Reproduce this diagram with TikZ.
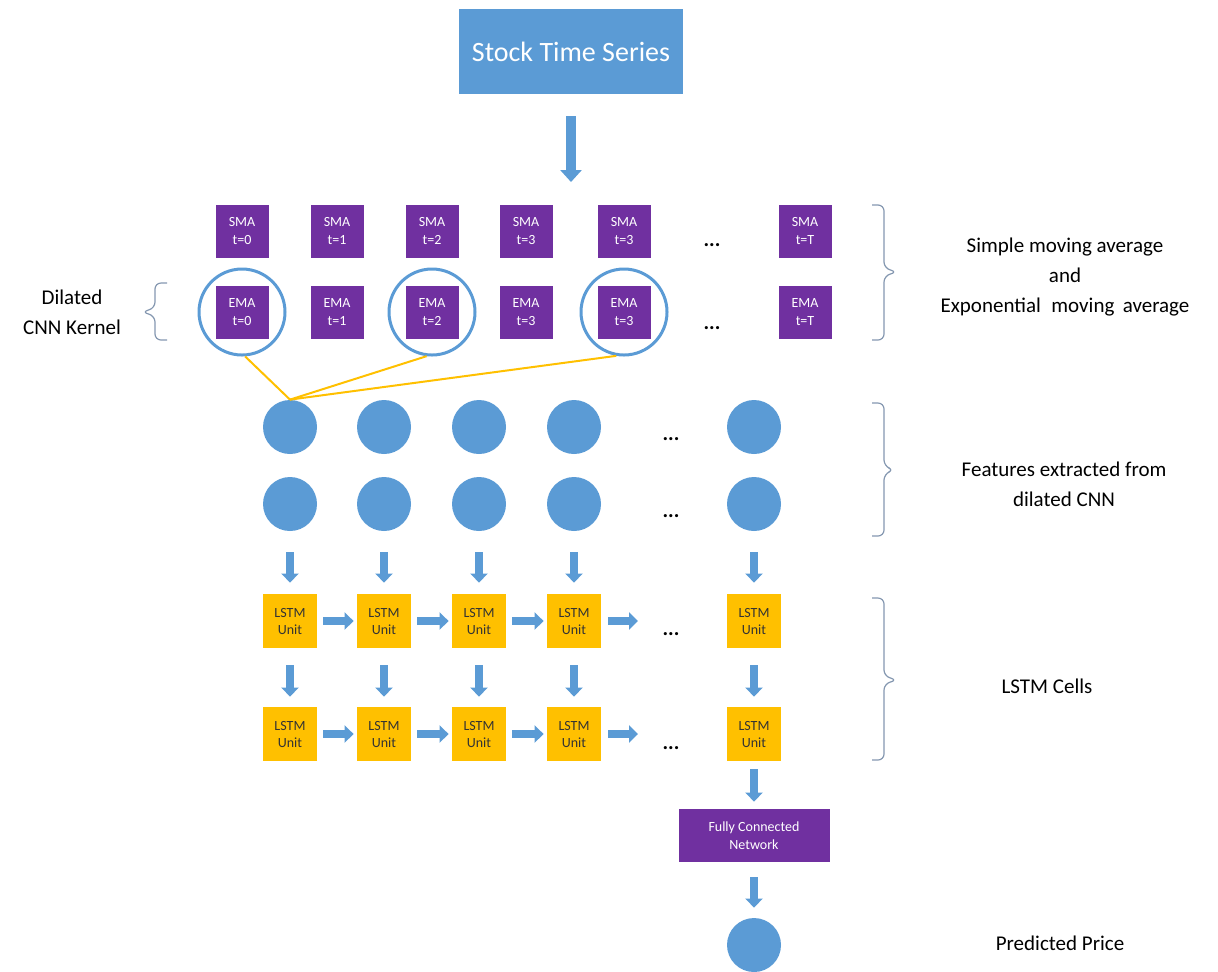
\documentclass[tikz,border=0pt]{standalone}
\usepackage{fontspec}
\setmainfont{Carlito}
\usetikzlibrary{arrows.meta, positioning}
\definecolor{msblue}{HTML}{5B9BD5}
\definecolor{mspurple}{HTML}{7030A0}
\definecolor{msgold}{HTML}{FFC000}
\definecolor{bracegray}{HTML}{8497B0}

\begin{document}
\begin{tikzpicture}[
    x=0.5pt, y=-0.5pt,
ma/.style   = {fill=mspurple, text=white, minimum size=26.5pt, inner sep=0pt,
               align=center, font=\fontsize{7}{9}\selectfont},
lstm/.style = {fill=msgold, text=black!80, minimum size=27pt, inner sep=0pt,
               align=center, font=\fontsize{7}{8.5}\selectfont},
feat/.style = {circle, fill=msblue, minimum size=27pt, inner sep=0pt},
ring/.style = {circle, draw=msblue, line width=1.5pt, minimum size=43pt},
arr/.style  = {draw=msblue, line width=4pt, -{Triangle[length=4.5pt, width=8.5pt]}},
bigarr/.style = {draw=msblue, line width=5pt, -{Triangle[length=6pt, width=10.5pt]}},
kernel/.style = {draw=msgold, line width=1pt},
brc/.style  = {draw=bracegray, line width=0.6pt, rounded corners=3pt},
dots/.style = {inner sep=0pt, font=\fontsize{10.5}{12}\selectfont\bfseries},
lbl/.style  = {align=center},
     font = \fontsize{10.5}{15}\selectfont
                        ]
\useasboundingbox (0,0) rectangle (1218,971);
\node (stock) [fill=msblue, text=white, minimum width=112pt, minimum height=42.5pt,
               font=\fontsize{14}{16}\selectfont] at (571,51.5) {Stock Time Series};
\coordinate (tsin) at (571,182);
%
\foreach \x/\t [count=\i] in {242/0, 337/1, 432/2, 526/3, 624/3, 805/T} {
    \node (sma\i) [ma] at (\x,231) {SMA\\t=\t};
    \node (ema\i) [ma] at (\x,312) {EMA\\t=\t};
}
\foreach \i in {1,3,5}
    \node (ring\i) [ring] at (ema\i) {};
\node (dsma) [dots] at (712,245) {...};
\node (dema) [dots] at (712,328) {...};
%
\foreach \x [count=\i] in {290,384,479,574,754} {
    \node (fa\i) [feat] at (\x,427) {};
    \node (fb\i) [feat] at (\x,504) {};
    \node (la\i) [lstm] at (\x,621) {LSTM\\Unit};
    \node (lb\i) [lstm] at (\x,734) {LSTM\\Unit};
}
\node (dfa) [dots] at (671,439) {...};
\node (dfb) [dots] at (671,516) {...};
\node (dla) [dots] at (671,634) {...};
\node (dlb) [dots] at (671,748) {...};
%
\node (fc)   [ma, minimum width=75.5pt] at (754,835.5) {Fully Connected\\Network};
\node (pred) [feat] at (754,945) {};
%
\draw[bigarr, shorten <=11pt] (stock) -- (tsin);
\draw[kernel] (ring1.-86) -- (fa1.north);
\draw[kernel] (ring3.-97) -- (fa1.north);
\draw[kernel] (ring5.-100) -- (fa1.north);
\foreach \i in {1,...,5} {
    \draw[arr, shorten <=10.5pt, shorten >=5.5pt] (fb\i) -- (la\i);
    \draw[arr, shorten <=8.5pt, shorten >=5pt] (la\i) -- (lb\i);
}
\foreach \i/\j in {1/2, 2/3, 3/4} {
    \draw[arr, shorten <=3pt, shorten >=1.5pt] (la\i) -- (la\j);
    \draw[arr, shorten <=3pt, shorten >=1.5pt] (lb\i) -- (lb\j);
}
\draw[arr, shorten <=3.5pt, shorten >=16.5pt] (la4) -- (la4 -| dla);
\draw[arr, shorten <=3.5pt, shorten >=16.5pt] (lb4) -- (lb4 -| dlb);
\draw[arr, shorten <=4pt, shorten >=3.5pt] (lb5) -- (fc);
\draw[arr, shorten <=7.5pt, shorten >=5pt] (fc) -- (pred);
%
\draw[brc] (872,205) -- (884,205) -- (884,268) -- (897,272) -- (884,276)
           -- (884,340) -- (872,340);
\draw[brc] (872,403) -- (884,403) -- (884,466) -- (894,470) -- (884,474)
           -- (884,536) -- (872,536);
\draw[brc] (872,598) -- (884,598) -- (884,676) -- (897,680) -- (884,684)
           -- (884,760) -- (872,760);
\draw[brc] (167,283) -- (155,283) -- (155,308) -- (142,312) -- (155,316)
           -- (155,340) -- (167,340);
\node (avglbl)  [lbl] at (1065,277) {Simple moving average\\and\\
                 Exponential\hspace{0.5em}moving\hspace{0.4em}average};
\node (featlbl) [lbl] at (1064,484) {Features extracted from\\dilated CNN};
\node (celllbl)       at (1047,686) {LSTM Cells};
\node (predlbl)       at (1060,943) {Predicted Price};
\node (kernlbl) [lbl] at (72,312)   {Dilated\\CNN Kernel};
    \end{tikzpicture}
\end{document}
